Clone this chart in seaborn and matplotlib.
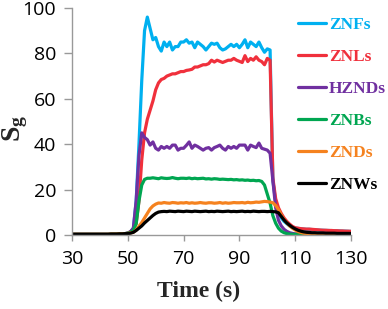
import numpy as np
import pandas as pd
import matplotlib
matplotlib.use("Agg")
import matplotlib.pyplot as plt
import seaborn as sns

# ---- data (t = 30 ... 130 s, 1 s step) ----
time_s = list(range(30, 131))

znfs = [0.3,0.3,0.3,0.3,0.3,0.3,0.3,0.3,0.3,0.3, 0.3,0.3,0.3,0.3,0.4,0.4,0.4,0.5,0.5,0.6,
        0.8,1.5,3,15,40,68,90,96,91,86,
        87,83,81,85,83,85,81.5,83,83,85,
        85,86,84.5,85,82.5,85,84,83,81.5,83,
        84.5,84,84.5,82.5,81.5,82,83,84,83,84,
        82.5,84,86,82.5,85,84,83,85,82.5,80.5,
        82,81.5,24,14.5,10,7.5,6,5,4,3.4,
        3,2.9,2.7,2.6,2.5,2.5,2.4,2.3,2.2,2.1,
        2.1,2,2,1.9,1.9,1.8,1.8,1.7,1.7,1.6,1.6]

znls = [0.3,0.3,0.3,0.3,0.3,0.3,0.3,0.3,0.3,0.3, 0.3,0.3,0.3,0.3,0.4,0.4,0.4,0.5,0.5,0.6,
        0.8,1.5,2.5,5,15,33,45,51,55,59,
        64,67,68.5,69,70,70.5,71,71,71.5,72,
        72,72.5,72.7,73,74,74,74.5,75,75,75.5,
        77,76.2,77,76.5,76,76.5,77,77,77.8,77,
        76.5,76,79,76.4,77.8,77,78.5,77,76.4,75,
        77.8,77,25,16,12,9.5,7.5,6,4.8,3.8,
        3.2,3,2.8,2.7,2.6,2.6,2.5,2.4,2.3,2.2,
        2.1,2.1,2,2,1.9,1.9,1.8,1.8,1.7,1.7,1.6]

hznds = [0.3,0.3,0.3,0.3,0.3,0.3,0.3,0.3,0.3,0.3, 0.3,0.3,0.3,0.3,0.4,0.4,0.4,0.5,0.5,0.6,
         0.8,1.5,3,15,35,45,43,42,39.6,41,
         38.2,37.4,39,38.2,39,38.2,39.6,39.6,37.4,38.2,
         38.2,39.5,41,38.2,39.6,39,38.2,37.4,38.2,38.5,
         37.4,38.5,39,39.6,38.2,37.4,39,38.2,39,38.2,
         39.6,39.6,39.6,37.4,39.6,39,38.5,40.5,38.2,37.8,
         37.4,36,24,12,6.5,4,2.5,1.6,1,0.7,
         0.5,0.5,0.4,0.4,0.4,0.4,0.4,0.3,0.3,0.3,
         0.3,0.3,0.3,0.3,0.3,0.3,0.3,0.3,0.3,0.3,0.3]

znbs = [0.3,0.3,0.3,0.3,0.3,0.3,0.3,0.3,0.3,0.3, 0.3,0.3,0.3,0.3,0.4,0.4,0.4,0.5,0.5,0.6,
        0.8,1.2,2,5,15,22,24.5,25,25,25.2,
        25,24.8,25.2,25,24.9,25,25.3,25,24.8,25,
        25,24.9,25.1,24.8,25,24.8,24.9,25,24.7,24.8,
        24.6,24.8,24.7,24.5,24.6,24.5,24.4,24.5,24.3,24.4,
        24.2,24.3,24.1,24.2,24,24.1,23.9,24,23.6,22,
        18,14,8.5,5.2,3,1.7,1,0.6,0.4,0.3,
        0.3,0.3,0.3,0.3,0.3,0.3,0.3,0.3,0.3,0.3,
        0.3,0.3,0.3,0.3,0.3,0.3,0.3,0.3,0.3,0.3,0.3]

znds = [0.3,0.3,0.3,0.3,0.3,0.3,0.3,0.3,0.3,0.3, 0.3,0.3,0.3,0.3,0.4,0.4,0.4,0.5,0.5,0.6,
        0.7,0.9,1.2,2.2,3.8,5.5,7.5,9.5,11.5,12.8,
        13.6,14.1,14,14.3,14.1,14,14.3,14.2,14,14.2,
        14.1,14.3,14,14.2,14,14.1,14.3,14.1,14,14.2,
        14.2,14,14.1,14.3,14,14.2,14,14.1,14.3,14.2,
        14.2,14.3,14.1,14.4,14.2,14.3,14.5,14.4,14.6,14.8,
        14.7,14.5,14.2,13,11.2,8.8,6.8,5.3,4,3,
        2.2,1.5,1.1,0.8,0.6,0.5,0.5,0.4,0.4,0.4,
        0.4,0.4,0.4,0.4,0.4,0.4,0.4,0.4,0.4,0.4,0.4]

znws = [0.3,0.3,0.3,0.3,0.3,0.3,0.3,0.3,0.3,0.3, 0.3,0.3,0.3,0.3,0.4,0.4,0.4,0.5,0.5,0.6,
        0.6,0.8,1.2,2,3,4,5.3,6.4,7.5,8.6,
        9.5,10.1,10.3,10.4,10.3,10.5,10.4,10.3,10.5,10.4,
        10.3,10.5,10.4,10.3,10.5,10.4,10.3,10.4,10.5,10.3,
        10.4,10.3,10.5,10.4,10.3,10.4,10.5,10.3,10.4,10.3,
        10.4,10.5,10.3,10.4,10.3,10.5,10.4,10.3,10.4,10.4,
        10.3,10.4,10.3,10.2,9.8,8.2,6.6,5.3,4.3,3.4,
        2.7,2.1,1.7,1.4,1.2,1.1,1,1,0.9,0.9,
        0.9,0.8,0.8,0.8,0.8,0.7,0.7,0.7,0.7,0.7,0.7]

series_names = ["ZNFs", "ZNLs", "HZNDs", "ZNBs", "ZNDs", "ZNWs"]
series_values = [znfs, znls, hznds, znbs, znds, znws]
colors = ["#00B0F0", "#F0303C", "#7030A0", "#00A651", "#F5821F", "#000000"]

x_ticks = [30, 50, 70, 90, 110, 130]
y_ticks = [0, 20, 40, 60, 80, 100]

df = pd.concat([pd.DataFrame({"Time": time_s, "Sg": v, "Sample": n})
                for n, v in zip(series_names, series_values)], ignore_index=True)

# ---- style ----
sns.set_theme(style="ticks")
plt.rcParams["font.family"] = ["Open Sans", "DejaVu Sans"]
plt.rcParams["mathtext.fontset"] = "custom"
plt.rcParams["mathtext.rm"] = "Liberation Serif:bold"
plt.rcParams["mathtext.bf"] = "Liberation Serif:bold"
plt.rcParams["mathtext.it"] = "Liberation Serif:bold"

W, H = 388, 309
fig = plt.figure(figsize=(W / 100, H / 100), dpi=100)
ax = fig.add_axes([72 / W, 1 - 235 / H, 279 / W, 227 / H])

sns.lineplot(data=df, x="Time", y="Sg", hue="Sample", hue_order=series_names,
             palette=dict(zip(series_names, colors)), linewidth=2.3, ax=ax,
             estimator=None, sort=False)

ax.set_xlim(30, 130)
ax.set_ylim(0, 100)
ax.set_xticks(x_ticks)
ax.set_yticks(y_ticks)
ax.tick_params(axis="both", labelsize=14, colors="#999999", labelcolor="black", width=1)
ax.tick_params(axis="x", length=4.5, pad=6)
ax.tick_params(axis="y", length=5.5, pad=6)
for s in ["top", "right"]:
    ax.spines[s].set_visible(False)
for s in ["left", "bottom"]:
    ax.spines[s].set_color("#999999")
    ax.spines[s].set_linewidth(1)

ax.set_xlabel("Time (s)", family="Liberation Serif", fontweight="bold", fontsize=17)
ax.xaxis.set_label_coords(0.455, -0.20)
ax.set_ylabel(r"$\mathbf{S_g}$", fontsize=20)
ax.yaxis.label.set_va("center")
ax.yaxis.set_label_coords(-0.205, 0.47)

handles, labels = ax.get_legend_handles_labels()
leg = ax.legend(handles, labels, loc="upper left",
                bbox_to_anchor=(298 / W, 1 - 16.5 / H), bbox_transform=fig.transFigure,
                frameon=False, handlelength=1.6, handletextpad=0.18, borderpad=0,
                borderaxespad=0, labelspacing=0.92, labelcolor="linecolor",
                prop={"family": "Liberation Serif", "weight": "bold", "size": 12.5})
for h in leg.get_lines():
    h.set_linewidth(2.3)

fig.savefig("out.png", dpi=100)
